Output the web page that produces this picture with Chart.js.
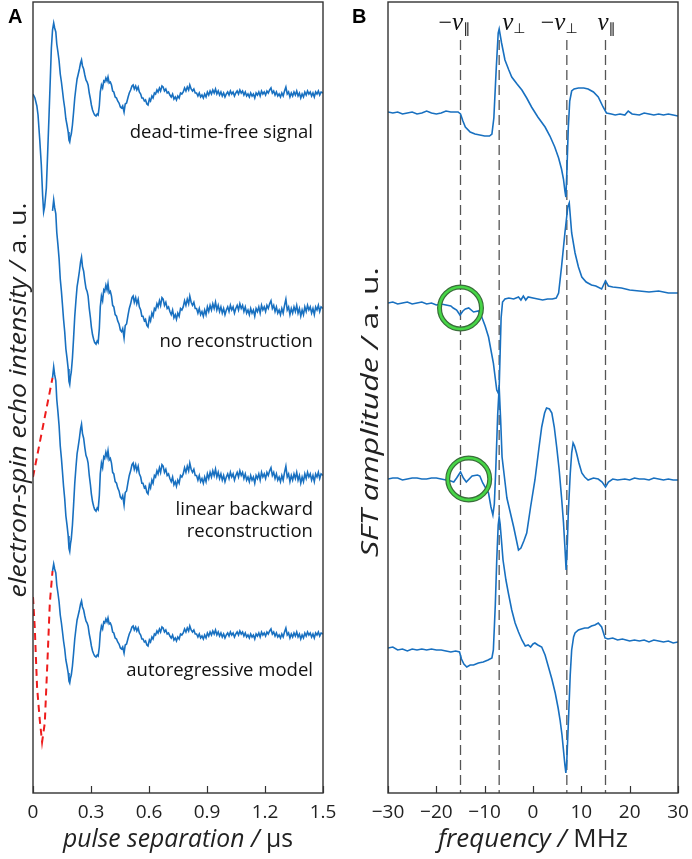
<!DOCTYPE html>
<html>
<head>
<meta charset="utf-8">
<script src="https://cdn.jsdelivr.net/npm/chart.js@4.4.0/dist/chart.umd.min.js"></script>
<style>
html, body { margin: 0; padding: 0; background: #fff; }
#wrap { position: relative; width: 692px; height: 859px; }
#chartA { position: absolute; left: 0; top: 0; }
#chartB { position: absolute; left: 345px; top: 0; }
</style>
</head>
<body>
<div id="wrap">
  <canvas id="chartA" width="340" height="859"></canvas>
  <canvas id="chartB" width="347" height="859"></canvas>
</div>
<script>
// ---- panel A : echo signal, [time / us, intensity] ----
var echo = [
  [0.000,0.0],[0.010,-0.4],[0.020,-1.2],[0.026,-2.1],[0.035,-4.6],[0.043,-7.1],[0.050,-10.2],[0.055,-11.8],
  [0.060,-11.3],[0.069,-9.4],[0.076,-5.8],[0.083,-2.1],[0.090,1.8],[0.095,4.6],[0.101,6.4],[0.107,7.1],
  [0.112,6.6],[0.118,6.2],[0.123,5.0],[0.129,4.2],[0.135,3.3],[0.141,2.0],[0.147,1.2],[0.152,0.4],
  [0.158,-0.6],[0.164,-1.4],[0.170,-2.5],[0.176,-3.1],[0.182,-3.8],[0.186,-4.6],[0.190,-4.8],[0.194,-4.3],
  [0.198,-4.0],[0.204,-3.1],[0.210,-1.8],[0.216,-0.4],[0.222,0.6],[0.228,1.5],[0.233,1.9],[0.240,2.5],
  [0.246,3.1],[0.251,3.4],[0.256,2.8],[0.262,2.5],[0.268,1.9],[0.274,1.4],[0.280,1.2],[0.285,0.9],
  [0.291,0.1],[0.297,-0.5],[0.302,-1.1],[0.308,-1.6],[0.314,-1.9],[0.319,-2.1],[0.326,-2.2],[0.332,-2.0],
  [0.337,-2.1],[0.343,-1.2],[0.348,0.2],[0.354,0.9],[0.360,0.6],[0.366,1.3],[0.371,1.2],[0.377,1.6],
  [0.383,1.3],[0.388,1.7],[0.394,1.1],[0.400,1.2],[0.406,0.9],[0.412,0.3],[0.418,0.2],[0.425,-0.3],
  [0.432,-0.4],[0.438,-0.7],[0.445,-0.9],[0.452,-1.3],[0.458,-1.4],[0.464,-1.2],[0.471,-1.8],[0.477,-1.0],
  [0.484,-0.9],[0.492,-0.3],[0.498,0.1],[0.505,0.4],[0.512,0.8],[0.518,0.9],[0.524,0.5],[0.531,0.8],
  [0.537,0.4],[0.544,0.7],[0.550,0.2],[0.557,0.0],[0.563,-0.4],[0.569,-0.4],[0.576,-0.7],[0.582,-0.6],
  [0.589,-1.0],[0.595,-1.1],[0.602,-0.5],[0.608,-0.7],[0.615,-0.2],[0.621,-0.4],[0.628,0.1],[0.634,0.0],
  [0.641,0.4],[0.647,0.2],[0.654,0.6],[0.660,0.3],[0.667,0.8],[0.673,0.7],[0.680,0.3],[0.687,0.5],
  [0.694,0.1],[0.701,0.2],[0.708,-0.1],[0.715,-0.3],[0.722,0.0],[0.729,-0.5],[0.736,-0.3],[0.742,-0.6],
  [0.749,-0.2],[0.756,-0.4],[0.763,0.1],[0.770,0.0],[0.777,0.2],[0.784,0.6],[0.791,0.3],[0.798,0.7],
  [0.805,0.4],[0.811,0.9],[0.818,0.5],[0.825,0.3],[0.832,0.5],[0.839,0.1],[0.846,0.1],[0.853,-0.2],
  [0.860,0.1],[0.867,-0.3],[0.874,-0.1],[0.881,-0.4],[0.888,0.0],[0.895,-0.3],[0.902,0.2],[0.909,-0.1],
  [0.916,0.3],[0.923,0.0],[0.930,0.4],[0.937,0.1],[0.944,0.5],[0.951,0.0],[0.958,0.3],[0.965,-0.1],
  [0.972,0.2],[0.979,-0.2],[0.986,0.1],[0.993,-0.3],[1.000,0.0],[1.007,0.2],[1.014,-0.1],[1.021,0.3],
  [1.028,0.0],[1.035,0.2],[1.042,-0.2],[1.049,0.1],[1.056,0.3],[1.063,0.0],[1.070,0.4],[1.077,0.1],
  [1.084,0.3],[1.091,-0.1],[1.098,0.2],[1.105,-0.2],[1.112,0.0],[1.119,-0.3],[1.126,0.1],[1.133,-0.2],
  [1.140,0.0],[1.147,-0.4],[1.154,0.1],[1.161,-0.1],[1.168,0.2],[1.175,-0.2],[1.182,0.3],[1.189,0.0],
  [1.196,0.2],[1.203,-0.1],[1.210,0.3],[1.217,0.1],[1.224,0.4],[1.231,0.6],[1.238,0.1],[1.245,0.3],
  [1.252,-0.1],[1.259,0.2],[1.266,-0.2],[1.273,0.0],[1.280,-0.3],[1.287,0.1],[1.294,-0.2],[1.301,0.3],
  [1.308,0.7],[1.315,0.0],[1.322,0.2],[1.329,-0.3],[1.336,0.1],[1.343,-0.2],[1.350,0.2],[1.357,-0.1],
  [1.364,0.3],[1.371,-0.2],[1.378,0.1],[1.385,-0.4],[1.392,0.0],[1.399,-0.3],[1.406,0.2],[1.413,-0.1],
  [1.420,0.3],[1.427,0.0],[1.434,0.2],[1.441,-0.2],[1.448,0.1],[1.455,-0.3],[1.462,0.2],[1.469,0.0],
  [1.476,0.3],[1.483,-0.1],[1.490,0.2],[1.500,0.1]
];
var deadTime = 0.1;
var linearRecon = [[0.000,0.0],[0.101,6.4]];
var arRecon = [[0.000,3.8],[0.009,0.8],[0.021,-5.2],[0.035,-8.5],[0.047,-10.7],[0.061,-8.8],[0.075,-2.5],[0.087,3.2],[0.101,6.4]];
var echoGain = [1, 1.55, 1.55, 1];
var echoLabels = ['dead-time-free signal', 'no reconstruction', 'linear backward|reconstruction', 'autoregressive model'];
var timeTicks = [0, 0.3, 0.6, 0.9, 1.2, 1.5];

// ---- panel B : spectra, [frequency / MHz, amplitude] ----
var specFree = [
  [-30,0.1],[-29,0.0],[-28,0.1],[-27,-0.1],[-26,0.0],[-25,0.1],[-24,-0.1],[-23,0.0],[-22,0.2],[-21,0.0],
  [-20,-0.1],[-19,0.0],[-18,0.2],[-17,0.1],[-16,0.1],[-15.5,0.1],[-15,-0.1],[-14.5,-0.8],[-14,-1.4],
  [-13,-1.9],[-12,-2.1],[-11,-2.2],[-10,-2.3],[-9,-2.3],[-8.5,-2.1],[-8.1,-0.5],[-7.6,4.5],[-7.2,8.0],
  [-7.0,8.4],[-6.5,7.0],[-5.8,5.3],[-5,4.3],[-4.4,3.6],[-3.3,2.9],[-2.3,2.3],[-1.3,1.5],[-0.3,0.6],
  [1,-0.4],[2.5,-1.4],[3.5,-2.3],[4.5,-3.4],[5.3,-4.5],[5.9,-5.6],[6.3,-6.6],[6.6,-7.8],[6.8,-8.4],
  [7.0,-6.0],[7.3,-1.5],[7.6,1.2],[8.0,2.2],[8.5,2.4],[9.4,2.5],[10.5,2.5],[11.4,2.4],[12.5,2.1],
  [13.5,1.6],[14.5,0.6],[15.2,0.0],[16.2,-0.1],[17,-0.2],[18,-0.1],[19,-0.2],[19.7,0.2],[20.5,-0.1],
  [22,-0.2],[23,0.0],[24,-0.1],[25,-0.2],[26,-0.1],[27,-0.2],[28,-0.1],[29,-0.2],[30,-0.3]
];
var specNone = [
  [-30,0.0],[-29,0.1],[-28,-0.1],[-27,0.0],[-26,0.1],[-25,-0.1],[-24,0.0],[-23,0.1],[-22,-0.1],[-21,0.0],
  [-20,-0.2],[-19,-0.1],[-18,-0.2],[-17,-0.3],[-16.5,-0.5],[-15.8,-0.7],[-15.1,-1.2],[-14.5,-0.8],
  [-14.0,-0.6],[-13.3,-0.5],[-12.3,-0.9],[-11.3,-0.8],[-10.6,-1.4],[-9.9,-2.3],[-9.2,-3.4],[-8.2,-6.0],
  [-7.5,-8.7],[-7.2,-9.0],[-7.0,-8.5],[-6.8,-5.0],[-6.6,-1.5],[-6.3,0.1],[-5.8,0.4],[-5,0.5],[-4,0.4],
  [-3,0.6],[-2.5,0.3],[-2,0.7],[-1.5,0.3],[-1,0.6],[0,0.5],[1,0.4],[2,0.3],[3,0.4],[4,0.4],[4.8,0.5],
  [5.3,1.0],[5.9,3.6],[6.6,7.0],[7.2,9.6],[7.5,10.0],[8.0,7.0],[8.7,5.0],[9.4,3.6],[10.1,2.6],[11,2.1],
  [12.1,1.8],[13,1.7],[14.2,1.4],[15.0,2.2],[15.6,1.7],[16.5,1.6],[18.3,1.5],[20,1.3],[22,1.2],[24,1.1],
  [26,1.2],[28,1.0],[30,1.0]
];
var specLinear = [
  [-30,0.0],[-29,0.1],[-28,0.1],[-27,-0.1],[-26,0.0],[-25,0.1],[-24,0.1],[-23,0.0],[-22,0.0],[-21,0.1],
  [-20,0.1],[-19,0.0],[-18,-0.1],[-17,-0.2],[-16.4,-0.3],[-15.8,0.1],[-15.0,0.7],[-14.4,0.1],[-13.8,-0.3],
  [-12.6,0.3],[-11.5,0.4],[-11.0,0.3],[-10.4,-0.4],[-9.2,-1.4],[-8.7,-2.8],[-8.3,-3.6],[-8.0,-2.5],
  [-7.7,1.0],[-7.3,6.5],[-7.0,9.2],[-6.7,6.0],[-6.4,2.2],[-5.4,-1.9],[-4.0,-4.8],[-3.0,-7.1],[-2.5,-6.9],
  [-1.9,-6.2],[-1.3,-5.4],[-0.5,-2.8],[0.4,-0.1],[1.2,3.0],[1.8,5.2],[2.4,6.6],[2.8,7.1],[3.4,7.0],
  [3.9,6.6],[4.4,5.2],[4.9,3.2],[5.4,1.0],[5.9,-1.8],[6.3,-4.3],[6.6,-6.8],[6.85,-9.1],[7.1,-6.5],
  [7.3,-3.4],[7.7,0.5],[8.0,2.6],[8.3,3.6],[8.6,3.3],[9.0,2.6],[9.5,1.6],[10.1,0.6],[10.7,0.2],[11.4,-0.1],
  [12.5,0.1],[13.5,0.0],[14.3,-0.3],[15.0,-0.8],[15.6,-0.3],[16.5,0.0],[17.5,-0.1],[19,0.0],[20,-0.1],
  [21,0.1],[22,0.0],[23,0.0],[24,-0.1],[25,0.1],[26,0.0],[27,-0.1],[28,0.0],[29,-0.1],[30,-0.1]
];
var specAR = [
  [-30,0.2],[-29,0.3],[-28,0.0],[-27,0.1],[-26,-0.1],[-25,0.1],[-24,0.0],[-23,0.1],[-22,0.0],[-21,0.1],
  [-20,0.0],[-19,0.0],[-18,-0.1],[-17,-0.2],[-16,-0.1],[-15.2,-0.2],[-14.8,-0.9],[-14.3,-1.4],[-13.7,-1.7],
  [-13,-1.5],[-12.3,-1.5],[-11.3,-1.3],[-10.3,-1.2],[-9.3,-1.0],[-8.5,-0.8],[-8.2,0.0],[-7.8,4.5],
  [-7.5,9.0],[-7.2,12.5],[-7.0,13.3],[-6.8,12.6],[-6.5,10.8],[-6.2,9.0],[-5.6,7.0],[-5.1,5.7],[-4.4,4.0],
  [-3.7,2.7],[-3.0,1.8],[-2.3,1.0],[-1.6,0.4],[-1.0,0.5],[-0.5,0.3],[0,0.6],[0.4,0.7],[1,0.5],[1.8,0.3],
  [2.5,-0.5],[3.2,-1.7],[3.9,-2.9],[4.6,-4.3],[5.2,-5.8],[5.6,-7.0],[6.0,-8.5],[6.3,-10.0],[6.6,-11.5],
  [6.8,-12.3],[7.0,-11.0],[7.3,-7.5],[7.7,-2.5],[8.0,0.0],[8.4,1.3],[8.7,1.7],[9.4,2.0],[10.0,2.1],
  [10.7,2.2],[11.4,2.2],[12.1,2.4],[12.8,2.5],[13.5,2.7],[14.2,2.3],[14.9,1.2],[15.5,1.1],[16.5,1.2],
  [17.5,1.0],[18.5,1.1],[20,0.9],[21,1.0],[22,0.9],[23,1.0],[24,0.8],[25,1.0],[26,0.9],[27,0.8],
  [28,0.9],[29,0.7],[30,0.8]
];
var markerFreqs = [-15, -7, 7, 15];
var markerLabels = [['\u2212', '\u2225'], ['', '\u22a5'], ['\u2212', '\u22a5'], ['', '\u2225']];
var highlights = [[1, -15, -0.5], [2, -13.3, 0.0]];  // [trace, frequency, amplitude]

// vertical stacking of the traces (layout)
var offsetsA = [69.9, 48.3, 31.6, 15.8];
var offsetsB = [68.0, 49.0, 31.4, 14.3];

var blue = '#1870c0';
var red = '#ee1c1c';
var ink = '#222';
var sans = '"Open Sans", sans-serif';

function shift(points, gain, offset, from) {
  return points.filter(function(p){ return p[0] >= from; })
    .map(function(p){ return {x: p[0], y: offset + gain * p[1]}; });
}
function lineSet(data, color, dash, order) {
  return {data: data, borderColor: color, borderWidth: dash ? 2 : 1.6, borderDash: dash || [],
    pointRadius: 0, tension: 0, fill: false, order: order || 1};
}

function frame(chart) {
  var ctx = chart.ctx, a = chart.chartArea, x = chart.scales.x;
  ctx.save();
  ctx.strokeStyle = '#333';
  ctx.lineWidth = 1.4;
  ctx.strokeRect(a.left, a.top, a.right - a.left, a.bottom - a.top);
  ctx.lineWidth = 1.2;
  x.ticks.forEach(function(t){
    var px = Math.round(x.getPixelForValue(t.value)) + 0.5;
    ctx.beginPath(); ctx.moveTo(px, a.bottom); ctx.lineTo(px, a.bottom - 7); ctx.stroke();
  });
  ctx.restore();
}

// axis title: quantity in italics, unit upright, stretched along its run to a given length
function axisTitle(ctx, parts, cx, cy, vertical, size, length) {
  ctx.save();
  ctx.translate(cx, cy);
  if (vertical) ctx.rotate(-Math.PI / 2);
  ctx.fillStyle = ink;
  ctx.textAlign = 'left';
  ctx.textBaseline = 'alphabetic';
  var fonts = parts.map(function(p){ return (p[1] ? 'italic ' : '') + size + 'px ' + sans; });
  var w = 0;
  parts.forEach(function(p, i){ ctx.font = fonts[i]; w += ctx.measureText(p[0]).width; });
  ctx.scale(length / w, 1);
  var x = -w / 2;
  parts.forEach(function(p, i){
    ctx.font = fonts[i];
    ctx.fillText(p[0], x, 0);
    x += ctx.measureText(p[0]).width;
  });
  ctx.restore();
}
function letter(chart, txt, x) {
  var ctx = chart.ctx;
  ctx.save();
  ctx.font = 'bold 20px "Liberation Sans", Arial, sans-serif';
  ctx.fillStyle = '#000';
  ctx.textBaseline = 'alphabetic';
  ctx.fillText(txt, x, 23);
  ctx.restore();
}

var annotateA = {
  id: 'annotateA',
  afterDraw: function(chart) {
    frame(chart);
    var ctx = chart.ctx, xs = chart.scales.x, ys = chart.scales.y, a = chart.chartArea;
    var baselines = [65.5, 44.6, 27.8, 11.7];
    ctx.save();
    ctx.font = '18.5px ' + sans;
    ctx.fillStyle = '#111';
    ctx.textAlign = 'right';
    ctx.textBaseline = 'alphabetic';
    echoLabels.forEach(function(l, i){
      l.split('|').forEach(function(part, k){
        ctx.fillText(part, xs.getPixelForValue(1.448), ys.getPixelForValue(baselines[i]) + k * 22);
      });
    });
    ctx.restore();
    axisTitle(ctx, [['pulse separation / ', true], ['\u00b5s', false]], (a.left + a.right) / 2, 847, false, 25, 230);
    axisTitle(ctx, [['electron-spin echo intensity / ', true], ['a. u.', false]], 26, 400, true, 23, 395);
    letter(chart, 'A', 8);
  }
};

var annotateB = {
  id: 'annotateB',
  afterDraw: function(chart) {
    frame(chart);
    var ctx = chart.ctx, xs = chart.scales.x, a = chart.chartArea;
    var shiftPx = [-22, 3, -26, -8];
    ctx.save();
    ctx.fillStyle = '#111';
    ctx.textAlign = 'left';
    ctx.textBaseline = 'alphabetic';
    markerFreqs.forEach(function(f, i){
      var x = xs.getPixelForValue(f) + shiftPx[i], y = 30;
      if (markerLabels[i][0]) {
        ctx.font = '24px "Liberation Serif", serif';
        ctx.fillText(markerLabels[i][0], x, y);
        x += ctx.measureText(markerLabels[i][0]).width;
      }
      ctx.font = 'italic 25px "Liberation Serif", serif';
      ctx.fillText('\u03bd', x, y);
      x += ctx.measureText('\u03bd').width;
      ctx.font = '14px "DejaVu Sans", sans-serif';
      ctx.fillText(markerLabels[i][1], x, y + 3);
    });
    ctx.restore();
    axisTitle(ctx, [['frequency / ', true], ['MHz', false]], (a.left + a.right) / 2, 847, false, 26, 190);
    axisTitle(ctx, [['SFT amplitude / ', true], ['a. u.', false]], 33, 412, true, 23, 290);
    letter(chart, 'B', 7);
  }
};

Chart.defaults.font.family = sans;
Chart.defaults.color = ink;

// panel A
var setsA = [
  lineSet(shift(echo, echoGain[0], offsetsA[0], 0), blue),
  lineSet(shift(echo, echoGain[1], offsetsA[1], deadTime), blue),
  lineSet(shift(echo, echoGain[2], offsetsA[2], deadTime), blue),
  lineSet(shift(linearRecon, echoGain[2], offsetsA[2], 0), red, [7, 5], 0),
  lineSet(shift(echo, echoGain[3], offsetsA[3], deadTime), blue),
  lineSet(shift(arRecon, echoGain[3], offsetsA[3], 0), red, [7, 5], 0)
];

new Chart(document.getElementById('chartA'), {
  type: 'line',
  data: {datasets: setsA},
  options: {
    responsive: false,
    animation: false,
    layout: {autoPadding: false, padding: {left: 0, right: 17, top: 2, bottom: 0}},
    plugins: {legend: {display: false}, tooltip: {enabled: false}},
    scales: {
      x: {
        type: 'linear', min: timeTicks[0], max: timeTicks[timeTicks.length - 1],
        afterBuildTicks: function(s){ s.ticks = timeTicks.map(function(v){ return {value: v}; }); },
        afterFit: function(s){ s.height = 66; s.paddingLeft = 0; s.paddingRight = 0; },
        grid: {display: false, drawTicks: false},
        border: {display: false},
        ticks: {font: {size: 19}, color: ink, padding: 8, maxRotation: 0, autoSkip: false,
          callback: function(v){ return v === 0 ? '0' : v.toFixed(1); }},
        title: {display: false}
      },
      y: {
        type: 'linear', min: 0, max: 79.1,
        afterFit: function(s){ s.width = 33; },
        grid: {display: false, drawTicks: false},
        border: {display: false},
        ticks: {display: false},
        title: {display: false}
      }
    }
  },
  plugins: [annotateA]
});

// panel B
var spectra = [specFree, specNone, specLinear, specAR];
var setsB = spectra.map(function(s, i){ return lineSet(shift(s, 1, offsetsB[i], -99), blue, null, 1); });
markerFreqs.forEach(function(f){
  var d = lineSet([{x: f, y: 75.3}, {x: f, y: 0}], '#555', [10, 5], 2);
  d.borderWidth = 1.3;
  setsB.push(d);
});
var rings = highlights.map(function(h){ return {x: h[1], y: offsetsB[h[0]] + h[2]}; });
setsB.push({data: rings, showLine: false, pointRadius: 21, pointBorderWidth: 5,
  pointBorderColor: '#3a6e3a', pointBackgroundColor: 'rgba(0,0,0,0)', order: 0});
setsB.push({data: rings, showLine: false, pointRadius: 21, pointBorderWidth: 2.6,
  pointBorderColor: '#46d646', pointBackgroundColor: 'rgba(0,0,0,0)', order: -1});

new Chart(document.getElementById('chartB'), {
  type: 'line',
  data: {datasets: setsB},
  options: {
    responsive: false,
    animation: false,
    layout: {autoPadding: false, padding: {left: 0, right: 14, top: 2, bottom: 0}},
    plugins: {legend: {display: false}, tooltip: {enabled: false}},
    scales: {
      x: {
        type: 'linear', min: -30, max: 30,
        ticks: {stepSize: 10, font: {size: 19}, color: ink, padding: 8, maxRotation: 0, autoSkip: false,
          callback: function(v){ return v < 0 ? '\u2212' + Math.abs(v) : String(v); }},
        afterFit: function(s){ s.height = 66; s.paddingLeft = 0; s.paddingRight = 0; },
        grid: {display: false, drawTicks: false},
        border: {display: false},
        title: {display: false}
      },
      y: {
        type: 'linear', min: 0, max: 79.1,
        afterFit: function(s){ s.width = 43; },
        grid: {display: false, drawTicks: false},
        border: {display: false},
        ticks: {display: false},
        title: {display: false}
      }
    }
  },
  plugins: [annotateB]
});
</script>
</body>
</html>
